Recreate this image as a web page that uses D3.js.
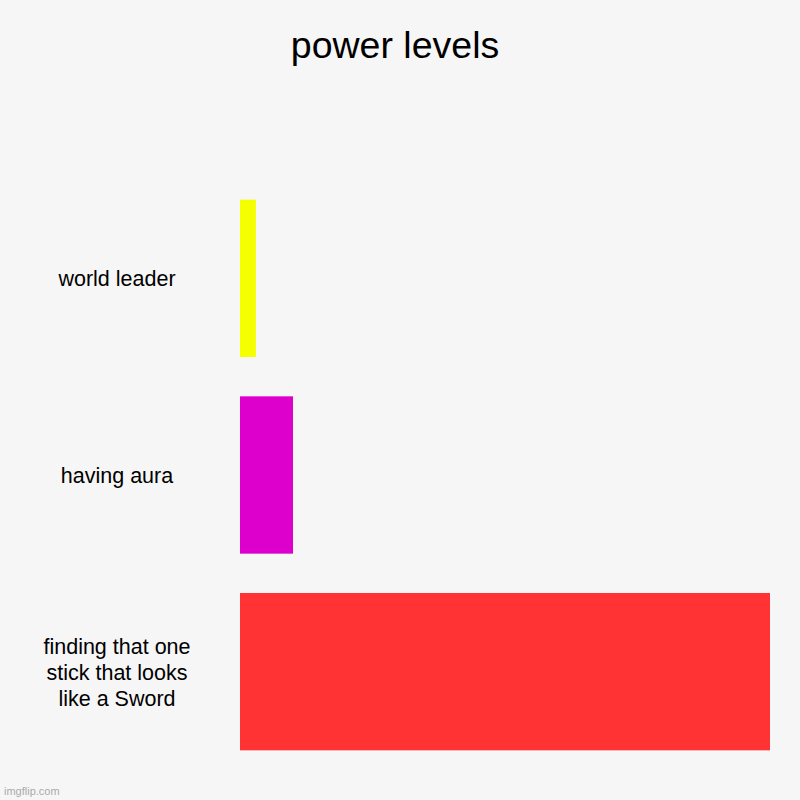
<!DOCTYPE html>
<html>
<head>
<meta charset="utf-8">
<script src="https://cdn.jsdelivr.net/npm/d3@7"></script>
<style>
  body { margin: 0; background: #f6f6f6; }
  svg { display: block; font-family: "Liberation Sans", Arial, sans-serif; }
</style>
</head>
<body>
<div id="chart"></div>
<script>
const categories = ["world leader", "having aura", "finding that one stick that looks like a Sword"];
const values = [3, 10, 100];
const colors = ["#f6ff00", "#dd00cc", "#ff3333"];

const width = 800;
const height = 800;

const svg = d3.select("#chart")
  .append("svg")
  .attr("width", width)
  .attr("height", height);

svg.append("rect")
  .attr("width", width)
  .attr("height", height)
  .attr("fill", "#f6f6f6");

svg.append("text")
  .attr("x", 395)
  .attr("y", 58)
  .attr("text-anchor", "middle")
  .attr("font-size", 37.5)
  .attr("fill", "#000")
  .text("power levels");

const x = d3.scaleLinear()
  .domain([0, d3.max(values)])
  .range([240, 770]);

const y = d3.scaleBand()
  .domain(categories)
  .range([180, 770])
  .paddingInner(0.2)
  .paddingOuter(0.1);

svg.selectAll(".bar")
  .data(categories)
  .enter()
  .append("rect")
  .attr("class", "bar")
  .attr("x", x(0))
  .attr("y", d => y(d))
  .attr("width", (d, i) => x(values[i]) - x(0))
  .attr("height", y.bandwidth())
  .attr("fill", (d, i) => colors[i]);

// labels, wrapped to fit the left column
const labels = svg.selectAll(".label")
  .data(categories)
  .enter()
  .append("text")
  .attr("class", "label")
  .attr("text-anchor", "middle")
  .attr("font-size", 21.5)
  .attr("fill", "#000");

const lineHeight = 26;
labels.each(function (d) {
  const t = d3.select(this);
  const words = d.split(" ");
  const lines = [];
  let line = [];
  const probe = t.append("tspan");
  words.forEach(w => {
    line.push(w);
    probe.text(line.join(" "));
    if (probe.node().getComputedTextLength() > 170 && line.length > 1) {
      line.pop();
      lines.push(line.join(" "));
      line = [w];
    }
  });
  lines.push(line.join(" "));
  probe.remove();
  const cy = y(d) + y.bandwidth() / 2;
  const first = cy - (lines.length - 1) * lineHeight / 2 + 8;
  lines.forEach((l, i) => {
    t.append("tspan")
      .attr("x", 117)
      .attr("y", first + i * lineHeight)
      .text(l);
  });
});

svg.append("text")
  .attr("x", 4)
  .attr("y", 795)
  .attr("font-size", 11)
  .attr("fill", "#aaa")
  .text("imgflip.com");
</script>
</body>
</html>
